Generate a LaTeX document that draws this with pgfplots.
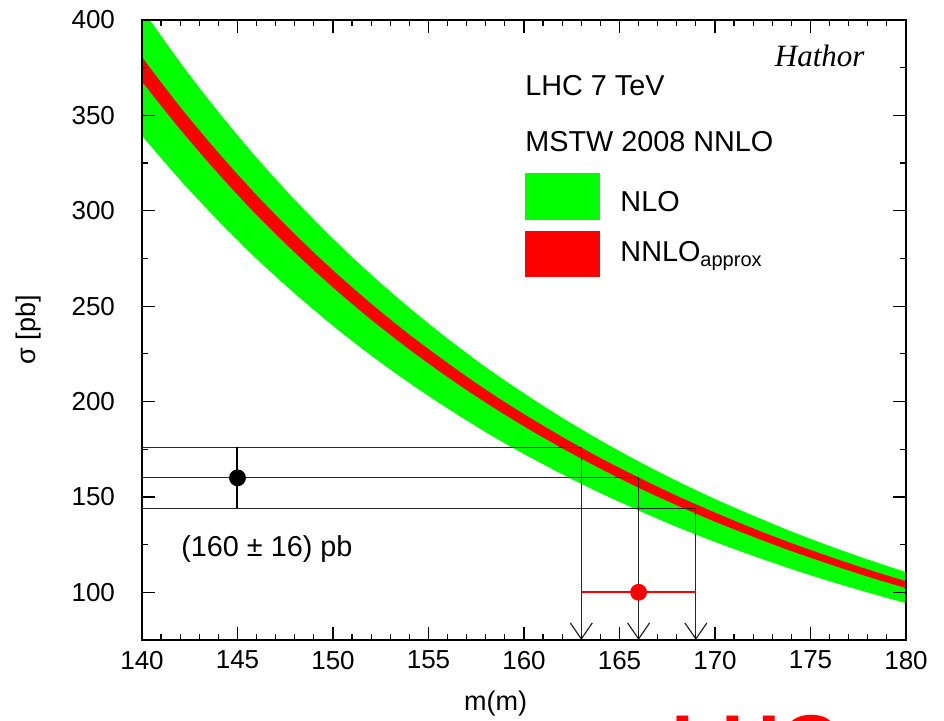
\documentclass[border=0pt]{standalone}
\usepackage{pgfplots}
\pgfplotsset{compat=1.18}
\usepackage{pgfplotstable}
\usepgfplotslibrary{fillbetween}
\usetikzlibrary{arrows.meta}
\usepackage{fontspec}
\setmainfont{Liberation Sans}
\newfontfamily\timesf{Liberation Serif}
\definecolor{bandgreen}{RGB}{0,255,0}
\definecolor{bandred}{RGB}{255,0,0}

\pgfplotstableread{
m   c     rlo   rhi   glo   ghi
140 374.1 367.7 380.5 339.3 405.9
142 348.5 342.6 354.4 316.1 377.7
144 324.9 319.4 330.4 294.7 351.8
146 303.0 297.8 308.2 274.8 327.8
148 282.9 278.1 287.7 256.6 305.7
150 264.3 259.8 268.8 239.7 285.3
152 247.1 242.9 251.3 224.1 266.5
154 231.2 227.3 235.1 209.7 249.1
156 216.5 212.8 220.2 196.4 233.0
158 202.8 199.4 206.2 183.9 218.0
160 190.2 187.0 193.4 172.5 204.3
162 178.5 175.5 181.5 161.9 191.5
164 167.6 164.8 170.4 152.0 179.6
166 157.5 154.8 160.2 142.9 168.6
168 148.1 145.6 150.6 134.3 158.4
170 139.4 137.0 141.8 126.4 148.9
172 131.3 129.1 133.5 119.1 140.2
174 123.7 121.6 125.8 112.2 131.9
176 116.7 114.7 118.7 105.8 124.3
178 110.1 108.2 112.0  99.9 117.2
180 104.0 102.2 105.8  94.3 110.6
}\bands

\begin{document}
\begin{tikzpicture}
\begin{axis}[
  at={(0,0)}, anchor=south west,
  width=382pt, height=310pt, scale only axis,
  xmin=140, xmax=180, ymin=75, ymax=400,
  xtick={140,145,...,180}, ytick={100,150,...,400},
  minor x tick num=4, minor y tick num=1,
  tick align=inside, major tick length=6.3pt, minor tick length=3pt,
  tick style={black, line width=0.6pt},
  axis line style={line width=0.9pt},
  ticklabel style={font=\fontsize{13}{15}\selectfont},
  /pgf/number format/assume math mode=true,
  xticklabel style={yshift=-2pt},
  yticklabel style={xshift=-10pt},
  xlabel={m(m)}, ylabel={σ [pb]},
  label style={font=\fontsize{13.5}{16}\selectfont},
  xlabel style={at={(rel axis cs:0.463,0)}, anchor=north, yshift=-22pt},
  ylabel style={at={(rel axis cs:0,0.5)}, anchor=south, yshift=47pt},
  axis on top,
  clip=true,
]
\addplot[name path=gup, draw=none, smooth] table[x=m,y=ghi]{\bands};
\addplot[name path=glo, draw=none, smooth] table[x=m,y=glo]{\bands};
\addplot[bandgreen] fill between[of=gup and glo];
\addplot[name path=rup, draw=none, smooth] table[x=m,y=rhi]{\bands};
\addplot[name path=rlo, draw=none, smooth] table[x=m,y=rlo]{\bands};
\addplot[bandred] fill between[of=rup and rlo];

\addplot[black!85, line width=0.6pt, -{Straight Barb[length=8pt,width=11pt]}] coordinates {(140,176) (163,176) (163,75)};
\addplot[black!85, line width=0.6pt, -{Straight Barb[length=8pt,width=11pt]}] coordinates {(140,160) (166,160) (166,75)};
\addplot[black!85, line width=0.6pt, -{Straight Barb[length=8pt,width=11pt]}] coordinates {(140,144) (169,144) (169,75)};

\addplot[only marks, mark=*, mark size=4pt, black,
  error bars/.cd, y dir=both, y explicit, error mark=none,
  error bar style={line width=1pt, black}]
  coordinates {(145,160) +- (0,16)};
\addplot[only marks, mark=*, mark size=4pt, bandred, mark options={fill=bandred, draw=bandred},
  error bars/.cd, x dir=both, x explicit, error mark=none,
  error bar style={line width=0.8pt, bandred}]
  coordinates {(166,100) +- (3,0)};

\fill[bandgreen] (axis cs:160.05,295.3) rectangle (axis cs:163.98,319.9);
\fill[bandred] (axis cs:160.05,265.4) rectangle (axis cs:163.98,289.5);
\node[anchor=base west, inner sep=0, font=\fontsize{14.4}{17}\selectfont] at (axis cs:160.05,360.2) {LHC 7 TeV};
\node[anchor=base west, inner sep=0, font=\fontsize{14.4}{17}\selectfont] at (axis cs:160.05,330.9) {MSTW 2008 NNLO};
\node[anchor=base west, inner sep=0, font=\fontsize{14.4}{17}\selectfont] at (axis cs:165.03,299.5) {NLO};
\node[anchor=base west, inner sep=0, font=\fontsize{14.4}{17}\selectfont] at (axis cs:165.03,273.3) {NNLO\textsubscript{approx}};
\node[anchor=base east, inner sep=0, font=\fontsize{15.5}{18}\selectfont\timesf\itshape] at (axis cs:177.85,375.4) {Hathor};
\node[anchor=base west, inner sep=0, font=\fontsize{14.4}{17}\selectfont] at (axis cs:142.04,118.9) {(160 ± 16) pb};
\end{axis}
\node[anchor=north west, inner sep=0, text=bandred, font=\fontsize{41}{45}\selectfont\bfseries] at (264.5pt,-37.5pt) {LHC};
\pgfresetboundingbox
\path[use as bounding box] (-71pt,-40.5pt) rectangle (401pt,320pt);
\end{tikzpicture}
\end{document}
